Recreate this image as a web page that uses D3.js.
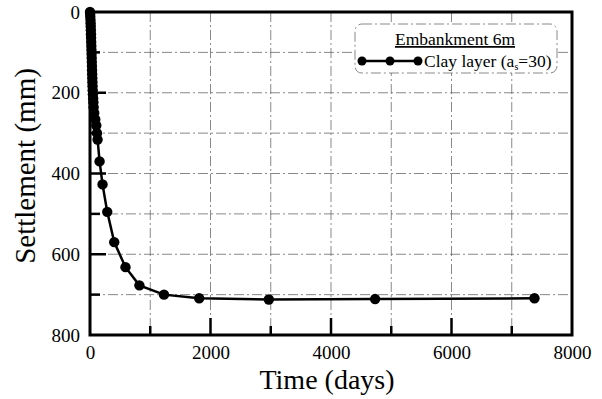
<!DOCTYPE html>
<html>
<head>
<meta charset="utf-8">
<script src="https://cdn.jsdelivr.net/npm/d3@7"></script>
<style>
  html, body { margin: 0; padding: 0; background: #fff; }
  svg { display: block; font-family: "Liberation Serif", "Times New Roman", serif; }
</style>
</head>
<body>
<svg id="chart" width="602" height="399"></svg>
<script>
// Settlement record of the clay layer under a 6 m embankment
const timeDays = [0, 3, 5, 8, 10, 12, 14, 16, 18, 20, 22, 24, 26, 28, 30, 32, 34, 36, 38, 40, 42, 45, 48, 52, 56, 60, 70, 88, 104, 116, 126, 159, 208, 286, 402, 589, 820, 1228, 1812, 2968, 4732, 7377];
const settlementMm = [0, 5, 12, 20, 28, 36, 45, 55, 64, 74, 84, 94, 104, 114, 124, 134, 144, 154, 164, 174, 184, 194, 204, 214, 224, 236, 250, 266, 281, 300, 316, 370, 427, 495, 570, 632, 677, 700, 709, 712, 711, 709];

const xTicks = [0, 2000, 4000, 6000, 8000];
const yTicks = [0, 200, 400, 600, 800];
const xGrid = [1000, 2000, 3000, 4000, 5000, 6000, 7000];
const yGrid = [100, 200, 300, 400, 500, 600, 700];

const legendTitle = "Embankment 6m";
const seriesName = "Clay layer (a";
const seriesSub = "s";
const seriesTail = "=30)";
const xTitle = "Time (days)";
const yTitle = "Settlement (mm)";

const svg = d3.select("#chart");
const plotL = 90, plotR = 572, plotT = 12, plotB = 335;

const x = d3.scaleLinear().domain([0, 8000]).range([plotL, plotR]);
const y = d3.scaleLinear().domain([0, 800]).range([plotT, plotB]);

// dash-dot grid
const grid = svg.append("g")
  .attr("stroke", "#6a6a6a")
  .attr("stroke-width", 0.8)
  .attr("stroke-dasharray", "10,3,2,3");
grid.selectAll("line.v").data(xGrid).join("line")
  .attr("x1", d => x(d)).attr("x2", d => x(d))
  .attr("y1", plotT).attr("y2", plotB);
grid.selectAll("line.h").data(yGrid).join("line")
  .attr("x1", plotL).attr("x2", plotR)
  .attr("y1", d => y(d)).attr("y2", d => y(d));

// inside ticks: long at labelled values, short halfway
const tickG = svg.append("g").attr("stroke", "#000").attr("stroke-width", 2.5);
tickG.selectAll("line.xt").data(d3.range(1000, 8000, 1000)).join("line")
  .attr("x1", d => x(d)).attr("x2", d => x(d))
  .attr("y1", plotB).attr("y2", d => plotB - (d % 2000 === 0 ? 17 : 9));
tickG.selectAll("line.yt").data(d3.range(100, 800, 100)).join("line")
  .attr("y1", d => y(d)).attr("y2", d => y(d))
  .attr("x1", plotL).attr("x2", d => plotL + (d % 200 === 0 ? 16 : 10));

// frame
svg.append("rect")
  .attr("x", plotL).attr("y", plotT)
  .attr("width", plotR - plotL).attr("height", plotB - plotT)
  .attr("fill", "none").attr("stroke", "#000").attr("stroke-width", 3);

// axis labels through d3 axes (domain and tick lines hidden)
const xAxis = svg.append("g")
  .attr("transform", `translate(0,${plotB})`)
  .call(d3.axisBottom(x).tickValues(xTicks).tickFormat(d3.format("d")).tickSize(0).tickPadding(11));
const yAxis = svg.append("g")
  .attr("transform", `translate(${plotL},0)`)
  .call(d3.axisLeft(y).tickValues(yTicks).tickFormat(d3.format("d")).tickSize(0).tickPadding(10));
[xAxis, yAxis].forEach(a => {
  a.select(".domain").remove();
  a.selectAll("text")
    .attr("font-family", "Liberation Serif, serif")
    .attr("font-size", 19)
    .attr("fill", "#000");
});

// titles
svg.append("text")
  .attr("x", 327).attr("y", 389)
  .attr("text-anchor", "middle")
  .attr("font-size", 28)
  .text(xTitle);
svg.append("text")
  .attr("transform", "translate(35,166) rotate(-90)")
  .attr("text-anchor", "middle")
  .attr("font-size", 29)
  .text(yTitle);

// series
const pts = timeDays.map((t, i) => [t, settlementMm[i]]);
svg.append("path")
  .datum(pts)
  .attr("fill", "none")
  .attr("stroke", "#000")
  .attr("stroke-width", 2.5)
  .attr("d", d3.line().x(d => x(d[0])).y(d => y(d[1])));
svg.append("g").selectAll("circle").data(pts).join("circle")
  .attr("cx", d => x(d[0])).attr("cy", d => y(d[1]))
  .attr("r", 5.2).attr("fill", "#000");

// legend
const lg = svg.append("g");
lg.append("rect")
  .attr("x", 355).attr("y", 24).attr("width", 202).attr("height", 49)
  .attr("rx", 7)
  .attr("fill", "#fff").attr("stroke", "#6a6a6a").attr("stroke-width", 0.8)
  .attr("stroke-dasharray", "10,3,2,3");
lg.append("text")
  .attr("x", 455).attr("y", 45)
  .attr("text-anchor", "middle")
  .attr("font-size", 17.5)
  .attr("text-decoration", "underline")
  .text(legendTitle);
const lx = [362, 390, 418];
lg.append("line")
  .attr("x1", lx[0]).attr("x2", lx[2]).attr("y1", 61).attr("y2", 61)
  .attr("stroke", "#000").attr("stroke-width", 2.5);
lg.selectAll("circle").data(lx).join("circle")
  .attr("cx", d => d).attr("cy", 61).attr("r", 4.5).attr("fill", "#000");
const st = lg.append("text")
  .attr("x", 424).attr("y", 67)
  .attr("font-size", 17.5)
  .text(seriesName);
st.append("tspan").attr("font-size", 10).attr("dy", 3).text(seriesSub);
st.append("tspan").attr("dy", -3).text(seriesTail);
</script>
</body>
</html>
